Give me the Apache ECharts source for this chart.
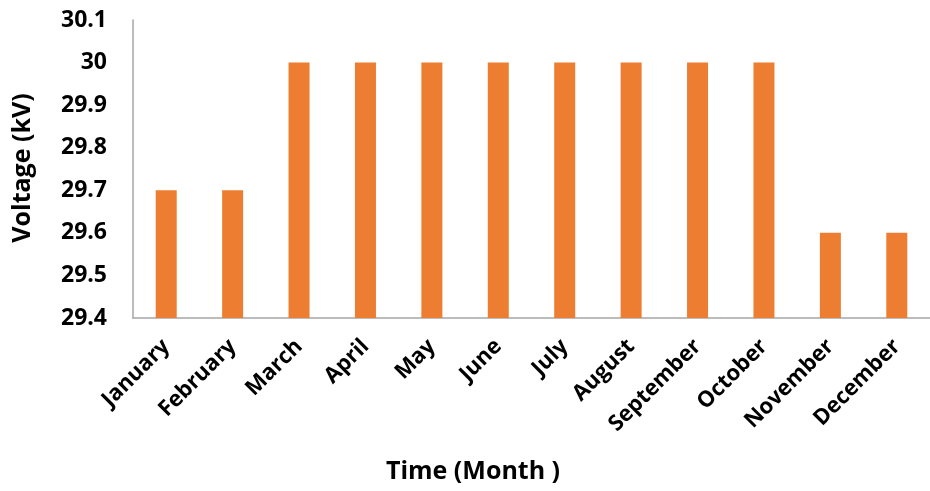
<!DOCTYPE html>
<html>
<head>
<meta charset="utf-8">
<script src="https://cdn.jsdelivr.net/npm/echarts@6/dist/echarts.min.js"></script>
<style>
  html, body { margin: 0; padding: 0; background: #fff; }
  #chart { width: 930px; height: 491px; }
</style>
</head>
<body>
<div id="chart"></div>
<script>
// Monthly voltage readings
const months = ['January', 'February', 'March', 'April', 'May', 'June', 'July',
                'August', 'September', 'October', 'November', 'December'];
const voltage = [29.7, 29.7, 30, 30, 30, 30, 30, 30, 30, 30, 29.6, 29.6];

const yMin = 29.4;
const yMax = 30.1;
const yStep = 0.1;

const fontFamily = '"Open Sans", Lato, sans-serif';
const axisGray = '#A6A6A6';

const chart = echarts.init(document.getElementById('chart'), null, { renderer: 'canvas' });

chart.setOption({
  animation: false,
  backgroundColor: '#ffffff',
  grid: { left: 133, top: 20, bottom: 173, width: 805, containLabel: false },
  xAxis: {
    type: 'category',
    data: months,
    axisLine: { lineStyle: { color: axisGray, width: 1.5 } },
    axisTick: { show: false },
    axisLabel: {
      rotate: 45,
      interval: 0,
      margin: 25,
      color: '#000',
      fontFamily: fontFamily,
      fontWeight: 'bold',
      fontSize: 22
    }
  },
  yAxis: {
    type: 'value',
    min: yMin,
    max: yMax,
    interval: yStep,
    axisLine: { show: true, lineStyle: { color: axisGray, width: 1.5 } },
    axisTick: { show: false },
    splitLine: { show: false },
    axisLabel: {
      margin: 26,
      color: '#000',
      fontFamily: fontFamily,
      fontWeight: 'bold',
      fontSize: 23,
      formatter: v => String(Number(v.toFixed(1)))
    }
  },
  series: [{
    type: 'bar',
    data: voltage,
    barWidth: 21,
    itemStyle: { color: '#ED7D31' }
  }],
  graphic: [
    {
      type: 'text',
      x: 473,
      y: 472,
      style: {
        text: 'Time (Month )',
        fill: '#000',
        font: 'bold 25px ' + fontFamily,
        align: 'center',
        verticalAlign: 'middle'
      }
    },
    {
      type: 'text',
      x: 23,
      y: 168,
      rotation: Math.PI / 2,
      style: {
        text: 'Voltage (kV)',
        fill: '#000',
        font: 'bold 25px ' + fontFamily,
        align: 'center',
        verticalAlign: 'middle'
      }
    }
  ]
});
</script>
</body>
</html>
